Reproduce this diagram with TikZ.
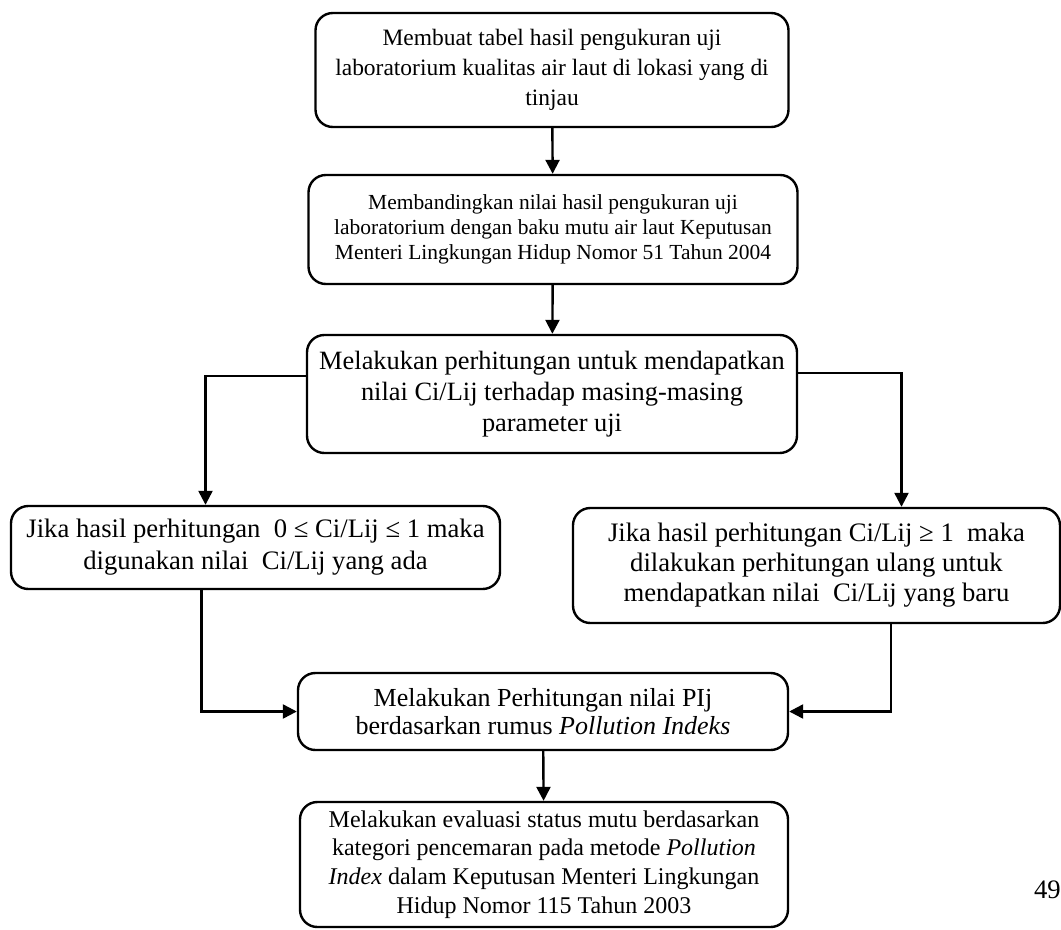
\documentclass[tikz,border=0pt]{standalone}
\usepackage{fontspec}
\setmainfont{Liberation Serif}
\usetikzlibrary{arrows.meta}

\tikzset{
  flowbox/.style={draw, line width=1.8pt, rounded corners=13pt, align=center, inner sep=0pt},
  flowarrow/.style={line width=1.8pt, -{Triangle[length=10.5pt,width=10.5pt]}},
}

\begin{document}
\begin{tikzpicture}[x=0.75pt, y=-0.75pt]
    \useasboundingbox (0,0) rectangle (1061,929);

    % First step: table of measurements
    \node[flowbox, minimum width=354.75pt, minimum height=85.5pt,
          font=\fontsize{17.6}{22.5}\selectfont] (tabel) at (552,70)
          {Membuat tabel hasil pengukuran uji\\
           laboratorium kualitas air laut di lokasi yang di\\
           tinjau};

    % Comparison with the standard
    \node[flowbox, minimum width=366.75pt, minimum height=81.75pt,
          font=\fontsize{16.1}{18.75}\selectfont] (banding) at (553,229.5)
          {Membandingkan nilai hasil pengukuran uji\\
           laboratorium dengan baku mutu air laut Keputusan\\
           Menteri Lingkungan Hidup Nomor 51 Tahun 2004};

    % Computing Ci/Lij
    \node[flowbox, minimum width=367.5pt, minimum height=88.5pt,
          font=\fontsize{19.8}{23.25}\selectfont] (hitung) at (552,394)
          {Melakukan perhitungan untuk mendapatkan\\
           nilai Ci/Lij terhadap masing-masing\\
           parameter uji};

    % Left branch
    \node[flowbox, minimum width=366.75pt, minimum height=62.25pt,
          font=\fontsize{20}{24}\selectfont] (kiri) at (255.5,547.5)
          {Jika hasil perhitungan \ 0 ≤ Ci/Lij ≤ 1 maka\\
           digunakan nilai \ Ci/Lij yang ada};

    % Right branch
    \node[flowbox, minimum width=365.25pt, minimum height=86.25pt,
          font=\fontsize{20}{22.5}\selectfont] (kanan) at (816.5,565.5)
          {Jika hasil perhitungan Ci/Lij ≥ 1 \ maka\\
           dilakukan perhitungan ulang untuk\\
           mendapatkan nilai \ Ci/Lij yang baru};

    % PIj computation
    \node[flowbox, minimum width=367.5pt, minimum height=57.75pt,
          font=\fontsize{19.5}{20.5}\selectfont] (pij) at (543,711.5)
          {Melakukan Perhitungan nilai PIj\\
           berdasarkan rumus \textit{Pollution Indeks}};

    % Evaluation
    \node[flowbox, minimum width=366pt, minimum height=93.75pt,
          font=\fontsize{18}{21.5}\selectfont] (evaluasi) at (544,864.5)
          {Melakukan evaluasi status mutu berdasarkan\\
           kategori pencemaran pada metode \textit{Pollution}\\
           \textit{Index} dalam Keputusan Menteri Lingkungan\\
           Hidup Nomor 115 Tahun 2003};

    % Page number
    \node[anchor=east, inner sep=0pt, font=\fontsize{20}{24}\selectfont] (hal) at (1061,890) {49};

    % Connectors
    \draw[flowarrow] (tabel) -- (banding);
    \draw[flowarrow] (banding) -- (hitung);
    \draw[flowarrow] ([yshift=13.5pt]hitung.west) -| ([xshift=-37.5pt]kiri.north);
    \draw[flowarrow] ([yshift=15.75pt]hitung.east) -| ([xshift=63.75pt]kanan.north);
    \draw[flowarrow] ([xshift=-40.5pt]kiri.south) |- (pij.west);
    \draw[flowarrow] ([xshift=56pt]kanan.south) |- (pij.east);
    \draw[flowarrow] (pij) -- (evaluasi);

\end{tikzpicture}
\end{document}
